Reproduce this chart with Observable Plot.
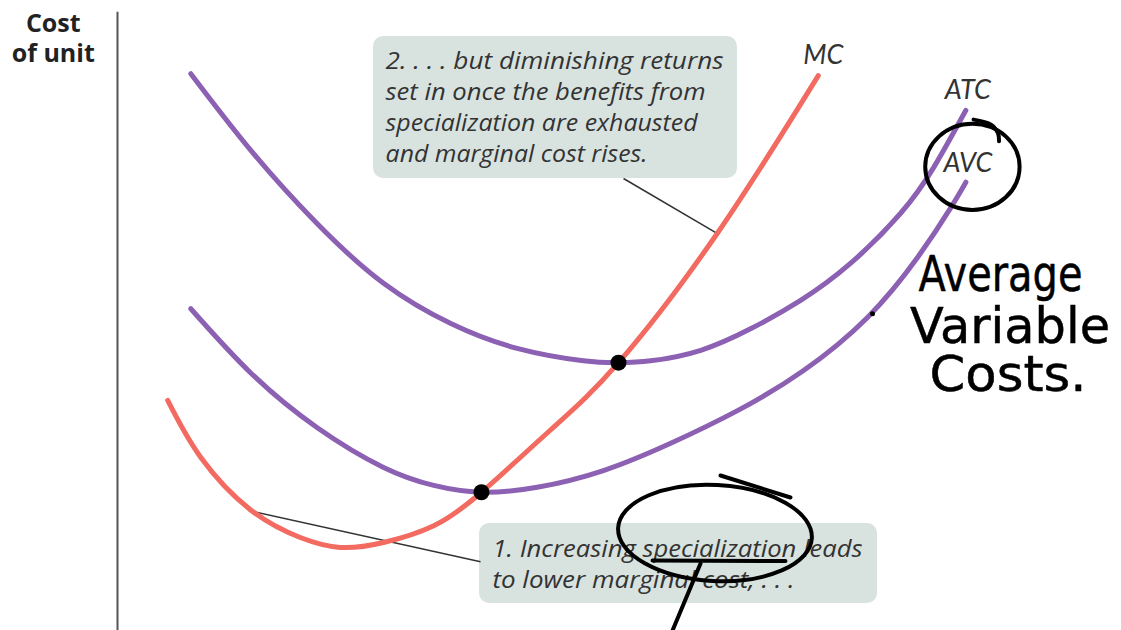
<!DOCTYPE html>
<html><head><meta charset="utf-8">
<script src="https://cdn.jsdelivr.net/npm/d3@7"></script>
<script src="https://cdn.jsdelivr.net/npm/@observablehq/plot@0.6"></script>
<style>html,body{margin:0;padding:0;background:#fff;} #chart svg{display:block}</style>
</head><body><div id="chart"></div>
<script>
// Quantity (0-100) and cost per unit (0-100)
const atcQ = [7.3, 13.3, 19.9, 26.5, 33.2, 39.8, 46.4, 49.9, 53.1, 58.1, 63.1, 68.0, 73.0, 78.0, 81.3, 84.5];
const atcC = [89.8, 77.4, 65.6, 56.0, 49.5, 45.5, 43.5, 43.2, 43.5, 45.2, 48.7, 53.2, 59.2, 67.3, 74.7, 83.9];
const avcQ = [7.3, 13.3, 19.9, 26.5, 31.5, 36.25, 41.8, 48.4, 55.1, 61.8, 68.3, 74.7, 79.7, 83.0, 84.5];
const avcC = [51.9, 41.5, 32.7, 26.3, 23.4, 22.3, 23.1, 25.8, 30.2, 35.5, 41.9, 50.5, 60.2, 68.2, 72.3];
const mcQ = [5.0, 8.3, 13.3, 18.2, 22.2, 26.5, 31.5, 36.25, 43.1, 49.9, 59.8, 69.8];
const mcC = [37.1, 27.9, 19.4, 15.0, 13.4, 14.2, 16.9, 22.3, 32.3, 43.2, 64.2, 89.5];

// Intersection points (minimum of AVC and ATC)
const minPoints = [{q: 36.25, c: 22.3}, {q: 49.9, c: 43.2}];

// Curve labels
const curveLabels = [
  {label: "MC", q: 70.3, c: 92.7},
  {label: "ATC", q: 84.7, c: 87.1},
  {label: "AVC", q: 84.7, c: 75.3}
];

// Callouts
const callout2Lines = ["2. . . . but diminishing returns", "set in once the benefits from", "specialization are exhausted", "and marginal cost rises."];
const callout1Lines = ["1. Increasing specialization leads", "to lower marginal cost, . . ."];
const calloutBoxes = [
  {x1: 25.5, x2: 61.75, y1: 72.9, y2: 95.8},
  {x1: 36.06, x2: 75.7, y1: 4.35, y2: 17.26}
];
const calloutAnchors = [{q: 26.7, c: 90.5}, {q: 37.35, c: 11.9}];
const leaders = [
  {x1: 50.4, y1: 72.9, x2: 59.76, y2: 64.0},
  {x1: 36.16, y1: 11.1, x2: 13.05, y2: 19.35}
];

const yTitle = ["Cost", "of unit"];

// Handwritten notes
const handText = ["Average", "Variable", "Costs."];
const handPos = [{q: 87.95, c: 54.8}, {q: 88.9, c: 46.3}, {q: 88.7, c: 38.7}];
const handStrokes = [
  [{q: 85.26, c: 82.4}, {q: 87.0, c: 81.6}, {q: 87.7, c: 80.2}, {q: 87.8, c: 78.9}],
  [{q: 60.06, c: 25.0}, {q: 67.03, c: 21.45}],
  [{q: 53.29, c: 11.3}, {q: 66.53, c: 11.2}],
  [{q: 58.07, c: 10.8}, {q: 55.28, c: 0}]
];
const handEllipses = [
  {q: 85.2, c: 74.7, rq: 4.7, rc: 6.95, rot: 0},
  {q: 59.56, c: 15.65, rq: 9.66, rc: 7.74, rot: 3}
];
const inkDot = [{q: 75.2, c: 51.1}];

const purple = "#8c60b2", red = "#f26a60", boxFill = "#d8e3e0", ink = "#333";
const series = (Q, C) => Q.map((q, i) => ({q, c: C[i]}));
const strokesData = handStrokes.flatMap((s, k) => s.map(p => ({...p, k})));
const handWidths = [164, 200, 157];
const lineStep = 5.0; // line spacing in cost units
const calloutLines = [
  ...callout2Lines.map((t, j) => ({t, q: calloutAnchors[0].q, c: calloutAnchors[0].c - j * lineStep})),
  ...callout1Lines.map((t, j) => ({t, q: calloutAnchors[1].q, c: calloutAnchors[1].c - j * lineStep}))
];
const calloutLineWidths = [338, 320, 312, 262, 370, 302];

const plot = Plot.plot({
  width: 1121, height: 630,
  marginLeft: 117, marginRight: 0, marginTop: 10, marginBottom: 0,
  x: {domain: [0, 100], axis: null},
  y: {domain: [0, 100], axis: null},
  style: {background: "#fff", overflow: "visible"},
  marks: [
    Plot.ruleX([0], {y1: 0, y2: 99.7, stroke: "#555", strokeWidth: 2}),
    Plot.rect(calloutBoxes, {x1: "x1", x2: "x2", y1: "y1", y2: "y2", fill: boxFill, rx: 10}),
    Plot.link(leaders, {x1: "x1", y1: "y1", x2: "x2", y2: "y2", stroke: "#333", strokeWidth: 1.5}),
    Plot.line(series(atcQ, atcC), {x: "q", y: "c", stroke: purple, strokeWidth: 5, curve: "natural"}),
    Plot.line(series(avcQ, avcC), {x: "q", y: "c", stroke: purple, strokeWidth: 5, curve: "natural"}),
    Plot.line(series(mcQ, mcC), {x: "q", y: "c", stroke: red, strokeWidth: 5, curve: "natural"}),
    Plot.dot(minPoints, {x: "q", y: "c", r: 8, fill: "#000"}),
    Plot.text(curveLabels, {x: "q", y: "c", text: "label", fontSize: 27, fontStyle: "italic", fontFamily: "Lato", fill: ink, textAnchor: "middle", lineAnchor: "middle"}),
    Plot.text(calloutLines, {x: "q", y: "c", text: "t", ariaLabel: () => "callouts",
      textAnchor: "start", lineAnchor: "bottom", fontSize: 24, fontStyle: "italic", fontFamily: "Open Sans", fill: ink}),
    Plot.text([yTitle.join("\n")], {x: -6.4, y: 99.9, text: d => d, textAnchor: "middle", lineAnchor: "top",
      fontSize: 25, fontWeight: "bold", fontFamily: "Open Sans", fill: "#222", lineHeight: 1.18}),
    Plot.line(strokesData, {x: "q", y: "c", z: "k", stroke: "#000", strokeWidth: 4, curve: "catmull-rom", strokeLinecap: "round"}),
    Plot.dot(inkDot, {x: "q", y: "c", r: 2.5, fill: "#000"}),
    Plot.text(handText, {x: (d, i) => handPos[i].q, y: (d, i) => handPos[i].c, text: d => d, ariaLabel: () => "handwriting",
      textAnchor: "middle", lineAnchor: "bottom", fontSize: 50, fontFamily: "DejaVu Sans", fill: "#000", stroke: "#000", strokeWidth: 0.5})
  ]
});

const sx = plot.scale("x"), sy = plot.scale("y");
const svg = d3.select(plot);
const fit = (label, widths) => svg.selectAll(`text[aria-label="${label}"], g[aria-label="${label}"] > text`).each(function(d, i) {
  if (widths[i]) { this.setAttribute("textLength", widths[i]); this.setAttribute("lengthAdjust", "spacingAndGlyphs"); }
});
fit("handwriting", handWidths);
fit("callouts", calloutLineWidths);
const eg = svg.append("g").attr("aria-label", "hand ellipses");
handEllipses.forEach(e => {
  const cx = sx.apply(e.q), cy = sy.apply(e.c);
  eg.append("ellipse")
    .attr("cx", cx).attr("cy", cy)
    .attr("rx", sx.apply(e.q + e.rq) - cx)
    .attr("ry", cy - sy.apply(e.c + e.rc))
    .attr("transform", `rotate(${e.rot},${cx},${cy})`)
    .attr("fill", "none").attr("stroke", "#000").attr("stroke-width", 4);
});
document.getElementById("chart").append(plot);
</script>
</body></html>
